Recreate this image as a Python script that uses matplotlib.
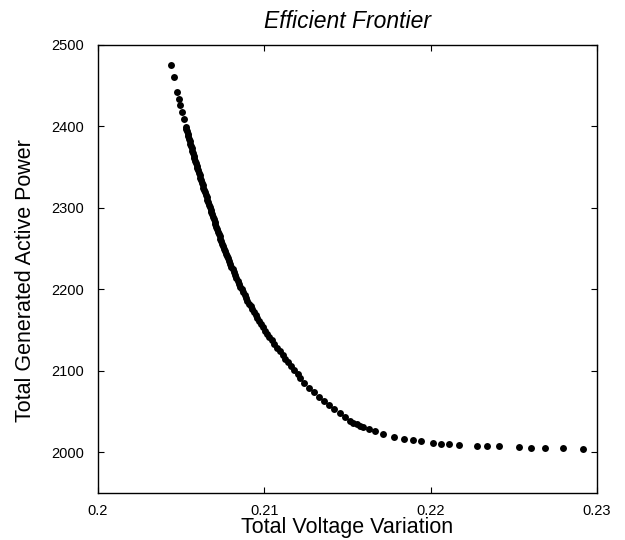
import matplotlib
matplotlib.use("Agg")
import matplotlib.pyplot as plt

plt.rcParams['font.family'] = ['Liberation Sans', 'DejaVu Sans']

# Pareto front points (voltage variation, generated power)
top_x = [0.20439, 0.20457, 0.20477, 0.20485, 0.20493, 0.20505, 0.20517, 0.20527]
top_y = [2475.9, 2460.4, 2442.0, 2434.2, 2426.5, 2418.3, 2409.3, 2399.9]

dense_x = [0.20531, 0.20535, 0.20540, 0.20544, 0.20548,
           0.20552, 0.20556, 0.20560, 0.20564, 0.20568, 0.20572, 0.20576, 0.20580,
           0.20585, 0.20589, 0.20593, 0.20598, 0.20602, 0.20607, 0.20611, 0.20615,
           0.20620, 0.20625, 0.20629, 0.20634, 0.20639, 0.20644, 0.20648, 0.20653, 0.20658,
           0.20663, 0.20668, 0.20672, 0.20677, 0.20682, 0.20687, 0.20692, 0.20696,
           0.20701, 0.20706, 0.20711, 0.20716, 0.20721, 0.20726, 0.20731, 0.20736,
           0.20742, 0.20747, 0.20753, 0.20759, 0.20764, 0.20770, 0.20775, 0.20781,
           0.20787, 0.20795, 0.20802, 0.20810, 0.20817, 0.20824, 0.20832,
           0.20840, 0.20848, 0.20856, 0.20865, 0.20873, 0.20881, 0.20889,
           0.20898, 0.20908, 0.20917, 0.20927, 0.20937, 0.20947, 0.20956,
           0.20967, 0.20979, 0.20992, 0.21005, 0.21018, 0.21030,
           0.21044, 0.21060, 0.21077, 0.21093, 0.21110, 0.21126,
           0.21143, 0.21162, 0.21181, 0.21200]
dense_y = [2397, 2394, 2391, 2388, 2385,
           2382, 2379, 2376, 2373, 2370, 2367, 2364, 2361,
           2358, 2355, 2352, 2349, 2346, 2343, 2340, 2337,
           2334, 2331, 2328, 2325, 2322, 2319, 2316, 2313, 2310,
           2307, 2304, 2301, 2298, 2295, 2292, 2289, 2286,
           2283, 2280, 2277, 2274, 2271, 2268, 2265, 2262,
           2259, 2256, 2253, 2250, 2247, 2244, 2241, 2238,
           2235, 2231.5, 2228, 2224.5, 2221, 2217.5, 2214,
           2210.5, 2207, 2203.5, 2200, 2196.5, 2193, 2189.5,
           2186, 2182.5, 2179, 2175.5, 2172, 2168.5, 2165,
           2161.5, 2157.5, 2153.5, 2149.5, 2145.5, 2141.5,
           2137.5, 2133, 2128.5, 2124, 2119.5, 2115,
           2110.5, 2105.5, 2100.5, 2095.5]

tail_x = [0.21215, 0.21241, 0.21271, 0.21301, 0.21331, 0.21359, 0.21389, 0.21419,
          0.21455, 0.21485, 0.21515, 0.21535, 0.21556, 0.21575, 0.21595, 0.21628,
          0.21665, 0.21713, 0.21780, 0.21840, 0.21896, 0.21944, 0.22012, 0.22064,
          0.22110, 0.22172, 0.22279, 0.22339, 0.22413, 0.22529, 0.22601, 0.22689,
          0.22796, 0.22914]
tail_y = [2091.5, 2085.4, 2079.3, 2073.5, 2068.2, 2062.9, 2058.0, 2052.7,
          2047.8, 2043.3, 2038.8, 2036.4, 2034.3, 2032.2, 2030.6, 2028.2,
          2025.7, 2022.4, 2019.2, 2016.3, 2014.7, 2013.9, 2011.4, 2010.6,
          2010.2, 2009.4, 2008.2, 2007.8, 2007.4, 2006.1, 2005.7, 2005.3,
          2004.9, 2004.5]

x_vals = top_x + dense_x + tail_x
y_vals = top_y + dense_y + tail_y

x_ticks = [0.20, 0.21, 0.22, 0.23]
x_tick_labels = ["0.2", "0.21", "0.22", "0.23"]
y_ticks = [2000, 2100, 2200, 2300, 2400, 2500]
y_tick_labels = ["2000", "2100", "2200", "2300", "2400", "2500"]

fig = plt.figure(figsize=(6.25, 5.4), dpi=100)
ax = fig.add_axes([0.1568, 0.087, 0.7984, 0.8297])

ax.plot(x_vals, y_vals, linestyle='none', marker='o', markersize=5.0,
        color='black', markeredgewidth=0)

ax.set_xlim(0.20, 0.23)
ax.set_ylim(1950, 2500)
ax.set_xticks(x_ticks)
ax.set_xticklabels(x_tick_labels)
ax.set_yticks(y_ticks)
ax.set_yticklabels(y_tick_labels)
ax.tick_params(direction='in', length=4, width=0.8, top=True, right=True,
               labelsize=10.5)
ax.tick_params(axis='x', pad=8)
ax.tick_params(axis='y', pad=10)
for s in ax.spines.values():
    s.set_linewidth(1.0)

ax.set_xlabel("Total Voltage Variation", fontsize=15.5, labelpad=-1)
ax.set_ylabel("Total Generated Active Power", fontsize=15.5,
              va='center', ha='center')
ax.yaxis.set_label_coords(-0.146, 0.475)
ax.set_title("Efficient Frontier", fontsize=16.5, style='italic', pad=12)

fig.savefig("out.png", dpi=100)
